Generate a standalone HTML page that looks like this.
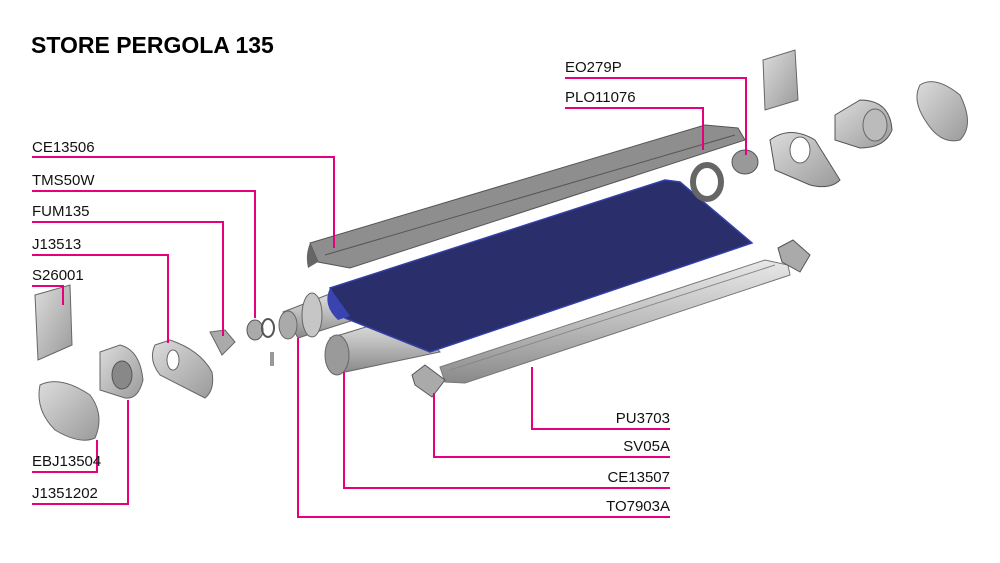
<!DOCTYPE html>
<html><head><meta charset="utf-8"><style>
html,body{margin:0;padding:0;background:#fff;}
svg{display:block;font-family:"Liberation Sans",Arial,sans-serif;}
</style></head><body>
<svg width="1000" height="563" viewBox="0 0 1000 563" xmlns="http://www.w3.org/2000/svg">
<defs>
<linearGradient id="g1" x1="0" y1="0" x2="0" y2="1"><stop offset="0" stop-color="#e8e8e8"/><stop offset="0.5" stop-color="#bdbdbd"/><stop offset="1" stop-color="#8a8a8a"/></linearGradient>
<linearGradient id="g2" x1="0" y1="0" x2="1" y2="1"><stop offset="0" stop-color="#dcdcdc"/><stop offset="1" stop-color="#9a9a9a"/></linearGradient>
</defs>
<text x="31" y="53" font-size="23" font-weight="bold" fill="#000">STORE PERGOLA 135</text>

<!-- top cover CE13506 -->
<polygon points="310,243 705,125 738,128 745,140 350,268 318,262" fill="#8e8e8e" stroke="#555" stroke-width="1"/>
<path d="M310,243 Q305,255 308,268 L318,262 Z" fill="#666"/>
<line x1="325" y1="255" x2="735" y2="135" stroke="#555" stroke-width="1"/>

<!-- tube CE13507 -->
<polygon points="330,338 405,315 440,352 345,372" fill="url(#g1)" stroke="#666"/>
<ellipse cx="337" cy="355" rx="12" ry="20" fill="#9a9a9a" stroke="#666"/>

<!-- roller tube TO7903A -->
<polygon points="283,312 345,288 360,318 298,338" fill="url(#g1)" stroke="#666"/>
<ellipse cx="312" cy="315" rx="10" ry="22" fill="#c6c6c6" stroke="#666"/>
<ellipse cx="288" cy="325" rx="9" ry="14" fill="#aaa" stroke="#666"/>

<!-- fabric -->
<polygon points="330,288 665,180 680,182 752,243 430,352 345,318" fill="#2a2e6b" stroke="#3340a8" stroke-width="1.5"/>
<path d="M330,288 Q322,305 338,320 L350,316 Z" fill="#3a44b0"/>

<!-- bottom profile PU3703 -->
<polygon points="440,367 765,260 788,265 790,275 465,383 445,382" fill="url(#g1)" stroke="#777"/>
<line x1="450" y1="370" x2="775" y2="265" stroke="#888"/>
<!-- SV05A -->
<polygon points="412,375 425,365 445,380 432,397 415,385" fill="#aaa" stroke="#555"/>
<!-- right end caps -->
<polygon points="778,248 793,240 810,255 800,272 782,262" fill="#aaa" stroke="#555"/>

<!-- right parts -->
<ellipse cx="707" cy="182" rx="14" ry="17" fill="none" stroke="#666" stroke-width="6"/>
<ellipse cx="745" cy="162" rx="13" ry="12" fill="#999" stroke="#555"/>
<path d="M770,140 Q790,125 815,140 L840,180 Q830,190 810,185 L775,170 Z" fill="url(#g2)" stroke="#555"/>
<ellipse cx="800" cy="150" rx="10" ry="13" fill="#fff" stroke="#666"/>
<path d="M835,115 L860,100 Q890,100 892,130 Q885,148 860,148 L835,140 Z" fill="url(#g2)" stroke="#555"/>
<ellipse cx="875" cy="125" rx="12" ry="16" fill="#bbb" stroke="#666"/>
<path d="M763,60 L795,50 L798,100 L765,110 Z" fill="url(#g2)" stroke="#666"/>
<path d="M920,85 Q935,75 960,95 Q975,125 960,140 Q940,145 925,120 Q912,100 920,85 Z" fill="url(#g2)" stroke="#666"/>

<!-- left parts -->
<path d="M35,295 L70,285 L72,345 L38,360 Z" fill="url(#g2)" stroke="#666"/>
<path d="M40,385 Q60,375 90,395 Q105,415 95,438 Q80,445 55,430 Q35,410 40,385 Z" fill="url(#g2)" stroke="#666"/>
<path d="M100,352 L120,345 Q140,350 143,380 Q138,400 125,398 L100,390 Z" fill="url(#g2)" stroke="#666"/>
<ellipse cx="122" cy="375" rx="10" ry="14" fill="#888" stroke="#555"/>
<path d="M155,345 L170,340 Q200,350 212,372 Q215,390 205,398 L160,375 Q148,360 155,345 Z" fill="url(#g2)" stroke="#666"/>
<ellipse cx="173" cy="360" rx="6" ry="10" fill="#fff" stroke="#666"/>
<path d="M210,332 L225,330 L235,342 L222,355 Z" fill="#aaa" stroke="#666"/>
<ellipse cx="255" cy="330" rx="8" ry="10" fill="#aaa" stroke="#555"/>
<ellipse cx="268" cy="328" rx="6" ry="9" fill="none" stroke="#555" stroke-width="2"/>
<rect x="270" y="352" width="4" height="14" fill="#999"/>

<!-- leader lines -->
<g stroke="#e6007e" stroke-width="2" fill="none">
<polyline points="32,157 334,157 334,248"/>
<polyline points="32,191 255,191 255,318"/>
<polyline points="32,222 223,222 223,336"/>
<polyline points="32,255 168,255 168,343"/>
<polyline points="32,286 63,286 63,305"/>
<polyline points="32,472 97,472 97,440"/>
<polyline points="32,504 128,504 128,400"/>
<polyline points="670,517 298,517 298,338"/>
<polyline points="670,488 344,488 344,372"/>
<polyline points="670,457 434,457 434,393"/>
<polyline points="670,429 532,429 532,367"/>
<polyline points="565,78 746,78 746,155"/>
<polyline points="565,108 703,108 703,150"/>
</g>

<g font-size="15" fill="#111">
<text x="32" y="152">CE13506</text>
<text x="32" y="185">TMS50W</text>
<text x="32" y="216">FUM135</text>
<text x="32" y="249">J13513</text>
<text x="32" y="280">S26001</text>
<text x="32" y="466">EBJ13504</text>
<text x="32" y="498">J1351202</text>
<text x="670" y="423" text-anchor="end">PU3703</text>
<text x="670" y="451" text-anchor="end">SV05A</text>
<text x="670" y="482" text-anchor="end">CE13507</text>
<text x="670" y="511" text-anchor="end">TO7903A</text>
<text x="565" y="72">EO279P</text>
<text x="565" y="102">PLO11076</text>
</g>
</svg>
</body></html>
